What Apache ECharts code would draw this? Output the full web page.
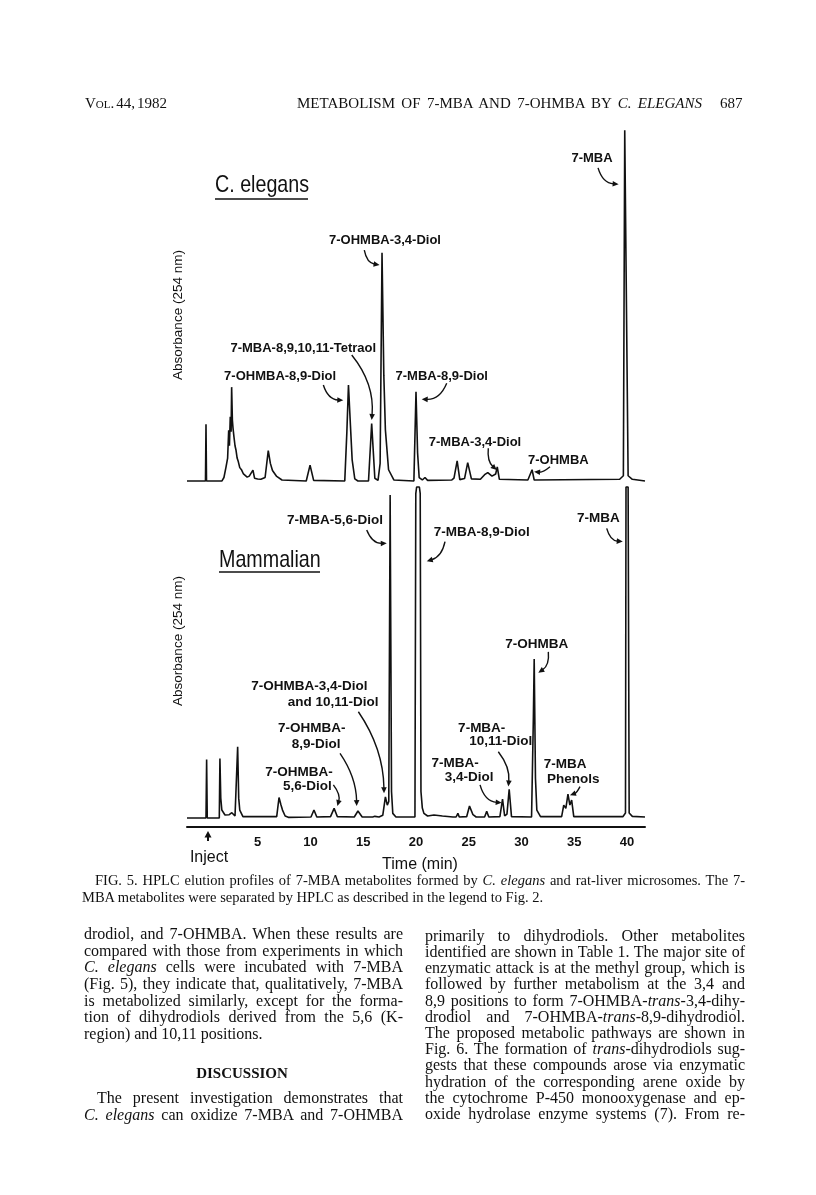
<!DOCTYPE html>
<html><head><meta charset="utf-8">
<script src="https://cdn.jsdelivr.net/npm/echarts@6/dist/echarts.min.js"></script>
<style>
html,body{margin:0;padding:0;background:#fff;}
#page{position:relative;width:816px;height:1195px;overflow:hidden;background:#fff;}
#chart{position:absolute;left:0;top:0;width:816px;height:1195px;}
.tx{position:absolute;font-family:"Liberation Serif","Times New Roman",serif;color:#111;white-space:nowrap;display:inline-block;}
</style></head>
<body><div id="page"><div id="chart"></div><div id="texts"></div></div>
<script>
// ---------------- DATA ----------------
const timeTicks = [5, 10, 15, 20, 25, 30, 35, 40];

// C. elegans trace (time in min, absorbance in % of full scale)
const elegansTime = [-1.7,0.05,0.1,0.15,1.6,1.8,2.0,2.15,2.25,2.32,2.4,2.48,2.53,2.6,2.66,2.75,2.85,2.94,3.05,3.16,3.3,3.48,3.65,3.8,4.0,4.2,4.35,4.55,4.7,5.0,5.3,5.7,6.0,6.2,6.4,6.8,7.3,9.6,9.96,10.3,13.25,13.45,13.6,13.75,13.95,14.2,14.5,15.5,15.8,16.1,16.4,16.6,16.78,16.95,17.1,17.4,17.9,19.8,20.0,20.15,20.3,20.6,20.85,21.1,23.4,23.6,23.9,24.15,24.6,24.9,25.25,26.1,26.5,26.8,27.2,27.55,27.7,27.9,30.6,31.0,31.2,39.3,39.65,39.78,39.93,40.1,40.5,41.7];
const elegansAbs  = [0,0,16.1,0,0,1.0,4.0,6.5,14.4,10,18.2,14,26.6,17.3,15,12.5,10,8.8,6.5,5.5,3.8,3.1,2.0,1.7,1.1,1.4,1.0,3.1,0.8,0.6,0.5,1.0,8.6,5.0,3.0,1.3,0.3,0,4.5,0.2,0,14,27.2,18,6,0.6,0,0,16.3,0.8,0.2,5,64.7,30,14.5,3.2,0.3,0,25.3,8,1.0,0.3,1.0,0.2,0.3,0.8,5.7,0.4,0.7,5.2,0.6,0.5,1.8,2.4,1.4,2.0,4.0,0.5,0.3,3.2,0.3,0.5,1.5,99.4,99.4,1.5,0.5,0];

// Mammalian (rat-liver microsomes) trace
const mammalTime = [-1.7,0.1,0.16,0.22,1.36,1.42,1.5,1.6,1.9,2.3,2.55,2.69,2.85,3.0,3.1,3.2,3.3,3.6,6.8,7.02,7.2,7.35,7.6,7.9,10.05,10.33,10.6,11.9,12.24,12.55,14.15,14.5,14.9,15.9,16.1,16.5,16.85,17.1,17.28,17.42,17.55,17.68,17.8,18.1,19.9,19.98,20.06,20.32,20.4,20.47,20.6,20.75,21.1,21.7,22.5,23.5,23.8,23.97,24.1,24.8,25.07,25.4,25.7,26.5,26.7,26.9,27.95,28.2,28.4,28.62,28.83,29.05,30.95,31.12,31.2,31.32,31.45,31.8,33.8,34.0,34.2,34.4,34.58,34.75,34.95,39.6,39.85,39.9,40.1,40.2,40.5,41.7];
const mammalAbs  = [0,0,17.7,0,0,18.0,6,2.4,0.9,1.0,1.6,2.1,0.6,0.5,21.5,6,2.4,0.4,0.4,6.2,4,2.4,0.6,0.2,0.3,2.4,0.3,0.4,2.9,0.4,0.3,2.1,0.3,0.3,0.5,0.3,0.8,6.4,3.9,5,97.6,8,1.4,0.3,0.3,98,100,100,98,8,3,1.4,0.6,0.9,0.6,0.3,0.3,1.4,0.3,0.4,3.6,1.0,0.3,0.3,2.0,0.3,0.4,5.7,0.6,1.2,8.7,0.4,0.3,30,48.0,12,2.4,0.4,0.4,3.9,2.9,7.2,3.9,5.4,0.4,0.4,1.5,100,100,1.5,0.5,0.3];

// ---------------- ANNOTATION LAYOUT (data space of each panel) ----------------
const elegansNotes = [
  {text:'7-MBA', at:[36.68,91.4], from:[37.25,88.7], to:[39.2,84.1], bend:-0.35},
  {text:'7-OHMBA-3,4-Diol', at:[17.06,68.3], from:[15.1,65.4], to:[16.55,61.2], bend:-0.35},
  {text:'7-MBA-8,9,10,11-Tetraol', at:[9.32,37.6], from:[13.91,35.7], to:[15.8,17.3], bend:0.2},
  {text:'7-OHMBA-8,9-Diol', at:[7.12,29.5], from:[11.22,27.2], to:[13.11,22.9], bend:-0.35},
  {text:'7-MBA-8,9-Diol', at:[22.44,29.5], from:[22.91,27.7], to:[20.54,23.2], bend:0.35},
  {text:'7-MBA-3,4-Diol', at:[25.59,10.8], from:[26.85,9.3], to:[27.65,3.1], bend:-0.25},
  {text:'7-OHMBA', at:[33.49,5.9], from:[32.7,4.05], to:[31.19,2.6], bend:0.2}
];
const mammalNotes = [
  {text:'7-MBA-5,6-Diol', at:[12.33,89.8], from:[15.33,87.0], to:[17.23,83.0], bend:-0.35},
  {text:'7-MBA-8,9-Diol', at:[26.23,86.2], from:[22.75,83.5], to:[21.02,77.6], bend:0.3},
  {text:'7-MBA', at:[37.28,90.5], from:[38.07,87.5], to:[39.59,83.5], bend:-0.35},
  {text:'7-OHMBA', at:[31.44,52.6], from:[32.54,50.2], to:[31.59,43.9], bend:0.3},
  {text:'7-OHMBA-3,4-Diol', at:[9.89,39.7]},
  {text:'and 10,11-Diol', at:[12.14,35.1], from:[14.54,32.1], to:[16.97,7.5], bend:0.15},
  {text:'7-OHMBA-', at:[10.12,27.1]},
  {text:'8,9-Diol', at:[10.53,22.4], from:[12.8,19.5], to:[14.38,3.6], bend:0.15},
  {text:'7-OHMBA-', at:[8.92,13.7]},
  {text:'5,6-Diol', at:[9.70,9.5], from:[12.17,10.0], to:[12.55,3.6], bend:0.25},
  {text:'7-MBA-', at:[26.23,27.1]},
  {text:'10,11-Diol', at:[28.03,23.1], from:[27.8,20.0], to:[28.75,9.5], bend:0.2},
  {text:'7-MBA-', at:[23.7,16.5]},
  {text:'3,4-Diol', at:[25.03,12.2], from:[26.07,10.0], to:[28.12,4.6], bend:-0.35},
  {text:'7-MBA', at:[34.12,16.3]},
  {text:'Phenols', at:[34.91,11.8], from:[35.54,9.5], to:[34.59,6.9], bend:0.2}
];

// ---------------- CHART ----------------
const INK = '#111';
const chart = echarts.init(document.getElementById('chart'), null, {renderer:'canvas'});
const zip = (a, b) => a.map((t, i) => [t, b[i]]);

function noteLabels(notes, size){
  return {
    markPoint: {
      silent:true, animation:false, symbol:'circle', symbolSize:1,
      itemStyle:{color:'rgba(0,0,0,0)'},
      label:{show:true, position:'inside', formatter:'{b}', color:INK,
             fontFamily:'Liberation Sans, Arial, sans-serif', fontWeight:'bold', fontSize:size},
      data: notes.map(n => ({name:n.text, coord:n.at}))
    }
  };
}

const xCommon = {type:'value', min:-1.7, max:41.7};
const baseGraphic = [
  {type:'text', x:215, y:185, scaleX:0.82, style:{text:'C. elegans', fill:INK, font:'24px "Liberation Sans", Arial, sans-serif', textAlign:'left', textVerticalAlign:'middle'}},
  {type:'line', shape:{x1:215, y1:199, x2:308, y2:199}, style:{stroke:INK, lineWidth:1.6}},
  {type:'text', x:219, y:560, scaleX:0.82, style:{text:'Mammalian', fill:INK, font:'24px "Liberation Sans", Arial, sans-serif', textAlign:'left', textVerticalAlign:'middle'}},
  {type:'line', shape:{x1:219, y1:572, x2:320, y2:572}, style:{stroke:INK, lineWidth:1.6}},
  {type:'text', x:178, y:315, rotation:Math.PI/2, style:{text:'Absorbance (254 nm)', fill:INK, font:'13.5px "Liberation Sans", Arial, sans-serif', textAlign:'center', textVerticalAlign:'middle'}},
  {type:'text', x:178, y:641, rotation:Math.PI/2, style:{text:'Absorbance (254 nm)', fill:INK, font:'13.5px "Liberation Sans", Arial, sans-serif', textAlign:'center', textVerticalAlign:'middle'}},
  {type:'polygon', shape:{points:[[208,831],[204.5,837.5],[211.5,837.5]]}, style:{fill:INK}},
  {type:'line', shape:{x1:208, y1:836, x2:208, y2:841}, style:{stroke:INK, lineWidth:2}},
  {type:'text', x:209, y:858, style:{text:'Inject', fill:INK, font:'16px "Liberation Sans", Arial, sans-serif', textAlign:'center', textVerticalAlign:'middle'}}
];
const option = {
  animation:false,
  grid:[
    {left:187, width:458, top:124.5, height:363.6},
    {left:187, width:458, top:483.7, height:343.3}
  ],
  xAxis:[
    Object.assign({gridIndex:0, show:false}, xCommon),
    Object.assign({gridIndex:1, show:true,
      axisLine:{show:true, onZero:false, lineStyle:{color:INK, width:2}},
      axisTick:{show:false}, splitLine:{show:false},
      axisLabel:{show:true, customValues:timeTicks, margin:9, color:INK,
                 fontFamily:'Liberation Sans, Arial, sans-serif', fontWeight:'bold', fontSize:13},
      name:'Time (min)', nameLocation:'middle', nameGap:30,
      nameTextStyle:{color:INK, fontFamily:'Liberation Sans, Arial, sans-serif', fontSize:16, padding:[0,0,0,8]}
    }, xCommon)
  ],
  yAxis:[
    {type:'value', gridIndex:0, min:-2, max:101, show:false},
    {type:'value', gridIndex:1, min:-2.72, max:101, show:false}
  ],
  series:[
    Object.assign({type:'line', name:'C. elegans', xAxisIndex:0, yAxisIndex:0,
      data:zip(elegansTime, elegansAbs), symbol:'none', showSymbol:false, clip:false, silent:true,
      lineStyle:{color:INK, width:1.6}}, noteLabels(elegansNotes, 13)),
    Object.assign({type:'line', name:'Mammalian', xAxisIndex:1, yAxisIndex:1,
      data:zip(mammalTime, mammalAbs), symbol:'none', showSymbol:false, clip:false, silent:true,
      lineStyle:{color:INK, width:1.6}}, noteLabels(mammalNotes, 13.5))
  ],
  graphic: baseGraphic
};
chart.setOption(option);

// curved annotation arrows, anchored in each panel's data space
function arrows(notes, seriesIndex){
  const out = [];
  notes.filter(n => n.from).forEach(n => {
    const p1 = chart.convertToPixel({seriesIndex:seriesIndex}, n.from);
    const p2 = chart.convertToPixel({seriesIndex:seriesIndex}, n.to);
    const dx = p2[0]-p1[0], dy = p2[1]-p1[1];
    const cx = (p1[0]+p2[0])/2 + n.bend*dy, cy = (p1[1]+p2[1])/2 - n.bend*dx;
    const tx = p2[0]-cx, ty = p2[1]-cy, L = Math.hypot(tx, ty) || 1;
    const ux = tx/L, uy = ty/L, ah = 6, aw = 2.8;
    const b = [p2[0]-ux*ah, p2[1]-uy*ah];
    out.push({type:'bezierCurve', silent:true,
      shape:{x1:p1[0], y1:p1[1], x2:b[0]+ux*1, y2:b[1]+uy*1, cpx1:cx, cpy1:cy},
      style:{stroke:INK, lineWidth:1.4, fill:'none'}});
    out.push({type:'polygon', silent:true,
      shape:{points:[[p2[0],p2[1]], [b[0]-uy*aw, b[1]+ux*aw], [b[0]+uy*aw, b[1]-ux*aw]]},
      style:{fill:INK}});
  });
  return out;
}
chart.setOption({graphic: baseGraphic.concat(arrows(elegansNotes, 0), arrows(mammalNotes, 1))});

// ---------------- PAGE TEXT ----------------
const texts = document.getElementById('texts');
function put(html, left, cy, size, opts){
  opts = opts || {};
  const s = document.createElement('span');
  s.className = 'tx';
  s.innerHTML = html;
  s.style.fontSize = size + 'px';
  s.style.lineHeight = size + 'px';
  s.style.left = left + 'px';
  s.style.top = (cy - size*0.57) + 'px';
  if (opts.bold) s.style.fontWeight = 'bold';
  texts.appendChild(s);
  if (opts.width){
    const nat = s.getBoundingClientRect().width;
    const spaces = (s.textContent.match(/ /g) || []).length;
    if (spaces) s.style.wordSpacing = ((opts.width - nat)/spaces) + 'px';
  }
  if (opts.center){
    const w = s.getBoundingClientRect().width;
    s.style.left = (left - w/2) + 'px';
  }
  return s;
}
// header
put('V<span style="font-size:11px">OL</span>. 44, 1982', 85, 105, 15, {width:82});
put('METABOLISM OF 7-MBA AND 7-OHMBA BY <i>C. ELEGANS</i>', 297, 105, 15, {width:405});
put('687', 720, 105, 15);
// caption
put('FIG. 5. HPLC elution profiles of 7-MBA metabolites formed by <i>C. elegans</i> and rat-liver microsomes. The 7-', 95, 881, 14.5, {width:650});
put('MBA metabolites were separated by HPLC as described in the legend to Fig. 2.', 82, 898, 14.5);
// left column
const leftLines = [
  ['drodiol, and 7-OHMBA. When these results are', true],
  ['compared with those from experiments in which', true],
  ['<i>C. elegans</i> cells were incubated with 7-MBA', true],
  ['(Fig. 5), they indicate that, qualitatively, 7-MBA', true],
  ['is metabolized similarly, except for the forma-', true],
  ['tion of dihydrodiols derived from the 5,6 (K-', true],
  ['region) and 10,11 positions.', false]
];
leftLines.forEach((l, i) => put(l[0], 84, 935 + 16.67*i, 16, l[1] ? {width:319} : {}));
put('DISCUSSION', 242, 1075, 15, {bold:true, center:true});
put('The present investigation demonstrates that', 97, 1099.5, 16, {width:306});
put('<i>C. elegans</i> can oxidize 7-MBA and 7-OHMBA', 84, 1116, 16, {width:319});
// right column
const rightLines = [
  'primarily to dihydrodiols. Other metabolites',
  'identified are shown in Table 1. The major site of',
  'enzymatic attack is at the methyl group, which is',
  'followed by further metabolism at the 3,4 and',
  '8,9 positions to form 7-OHMBA-<i>trans</i>-3,4-dihy-',
  'drodiol and 7-OHMBA-<i>trans</i>-8,9-dihydrodiol.',
  'The proposed metabolic pathways are shown in',
  'Fig. 6. The formation of <i>trans</i>-dihydrodiols sug-',
  'gests that these compounds arose via enzymatic',
  'hydration of the corresponding arene oxide by',
  'the cytochrome P-450 monooxygenase and ep-',
  'oxide hydrolase enzyme systems (7). From re-'
];
rightLines.forEach((l, i) => put(l, 425, 937 + 16.2*i, 16, {width:320}));
</script></body></html>
